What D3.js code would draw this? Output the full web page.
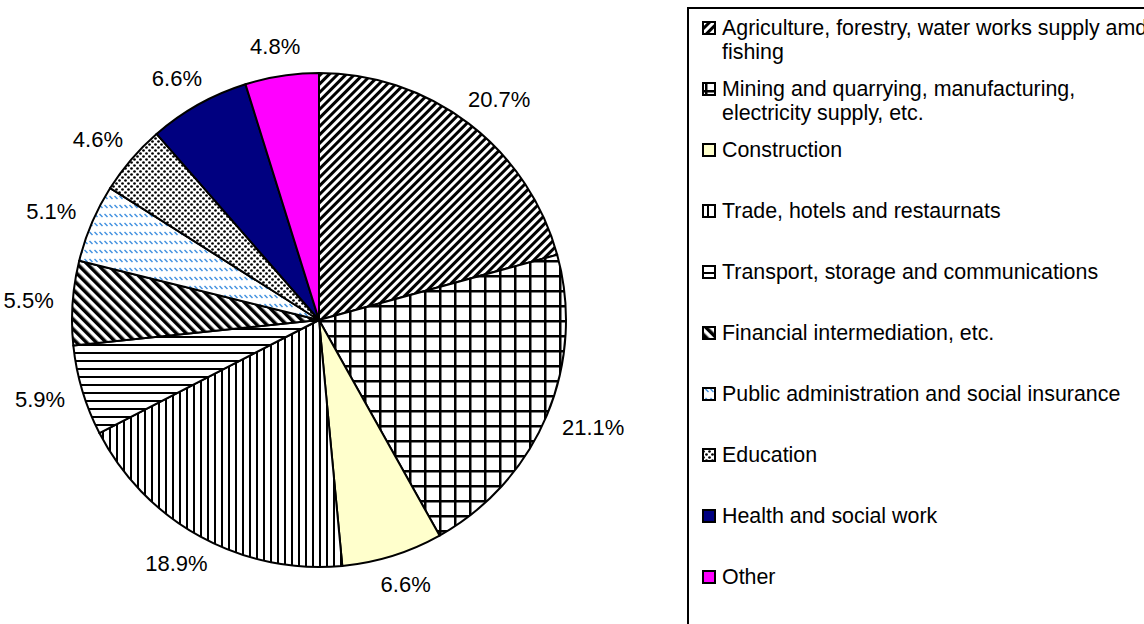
<!DOCTYPE html>
<html>
<head>
<meta charset="utf-8">
<script src="https://cdn.jsdelivr.net/npm/d3@7"></script>
<style>
body{margin:0;background:#fff;overflow:hidden;}
svg{display:block;font-family:Arial,"Liberation Sans",sans-serif;}
</style>
</head>
<body>
<svg id="chart"></svg>
<script>
// data
const categories = [
  "Agriculture, forestry, water works supply amd fishing",
  "Mining and quarrying, manufacturing, electricity supply, etc.",
  "Construction",
  "Trade, hotels and restaurnats",
  "Transport, storage and communications",
  "Financial intermediation, etc.",
  "Public administration and social insurance",
  "Education",
  "Health and social work",
  "Other"
];
const shares = [20.7, 21.1, 6.6, 18.9, 5.9, 5.5, 5.1, 4.6, 6.6, 4.8];
const fills = ["url(#pAgri)", "url(#pMine)", "#FFFFCC", "url(#pTrade)", "url(#pTrans)",
               "url(#pFin)", "url(#pPub)", "url(#pEdu)", "#000080", "#FF00FF"];

const w = 1144, h = 624;
const cx = 319, cy = 320, r = 247;//pie centre and radius

let svg = d3.select("#chart").attr("width", w).attr("height", h);
let defs = svg.append("defs");

// hatch patterns like the excel fills
let stripes = (id, size, thick, angle) => {
  let p = defs.append("pattern").attr("id", id)
    .attr("patternUnits", "userSpaceOnUse")
    .attr("width", size).attr("height", size)
    .attr("patternTransform", "rotate(" + angle + ")");
  p.append("rect").attr("width", size).attr("height", size).attr("fill", "#fff");
  p.append("rect").attr("width", thick).attr("height", size).attr("fill", "#000");
};
stripes("pAgri", 6, 3, 45);
stripes("pFin", 7, 3.5, -45);
stripes("pTrade", 7, 2, 0);
stripes("pTrans", 8, 2, 90);

let grid = defs.append("pattern").attr("id", "pMine")
  .attr("patternUnits", "userSpaceOnUse").attr("width", 15).attr("height", 15);
grid.append("rect").attr("width", 15).attr("height", 15).attr("fill", "#fff");
grid.append("rect").attr("width", 2.5).attr("height", 15).attr("fill", "#000");
grid.append("rect").attr("width", 15).attr("height", 2.5).attr("fill", "#000");

let pub = defs.append("pattern").attr("id", "pPub")
  .attr("patternUnits", "userSpaceOnUse").attr("width", 5).attr("height", 9);
pub.append("rect").attr("width", 5).attr("height", 9).attr("fill", "#fff");
pub.append("line").attr("x1", 0.5).attr("y1", 2).attr("x2", 3.5).attr("y2", 5)
  .attr("stroke", "#3f8fdf").attr("stroke-width", 1.5);

let edu = defs.append("pattern").attr("id", "pEdu")
  .attr("patternUnits", "userSpaceOnUse").attr("width", 6).attr("height", 6);
edu.append("rect").attr("width", 6).attr("height", 6).attr("fill", "#fff");
edu.append("circle").attr("cx", 1.5).attr("cy", 1.5).attr("r", 1.35).attr("fill", "#000");
edu.append("circle").attr("cx", 4.5).attr("cy", 4.5).attr("r", 1.35).attr("fill", "#000");

// pie
let pie = d3.pie().sort(null).value(d => d);
let arcs = pie(shares);
let arc = d3.arc().innerRadius(0).outerRadius(r);

let g = svg.append("g").attr("transform", "translate(" + cx + "," + cy + ")");
g.selectAll("path")
  .data(arcs)
  .enter()
  .append("path")
  .attr("d", arc)
  .attr("fill", (d, i) => fills[i])
  .attr("stroke", "#000")
  .attr("stroke-width", 2)
  .attr("stroke-linejoin", "round");

// labels sit just outside the rim, box pushed outwards along the mid angle
const labelR = r + 19, labelH = 22;
g.selectAll("text")
  .data(arcs)
  .enter()
  .append("text")
  .attr("text-anchor", "middle")
  .attr("dominant-baseline", "central")
  .attr("font-size", 22)
  .attr("fill", "#000")
  .text(d => d.value.toFixed(1) + "%")
  .each(function(d) {
    let a = (d.startAngle + d.endAngle) / 2;
    let tw = this.getComputedTextLength();
    let x = Math.sin(a) * labelR + Math.sin(a) * tw / 2;
    let y = -Math.cos(a) * labelR - Math.cos(a) * labelH / 2;
    d3.select(this).attr("x", x).attr("y", y);
  });

// legend
const legX = 688, legY = 8, rowH = 61, firstBase = 35, lineH = 24, wrapW = 440;
svg.append("rect")
  .attr("x", legX).attr("y", legY)
  .attr("width", 600).attr("height", 700)
  .attr("fill", "none").attr("stroke", "#000").attr("stroke-width", 2);

let leg = svg.append("g");
categories.forEach((name, i) => {
  let base = firstBase + i * rowH;
  leg.append("rect")
    .attr("x", 703).attr("y", base - 13)
    .attr("width", 12).attr("height", 12)
    .attr("fill", fills[i])
    .attr("stroke", "#000").attr("stroke-width", 2);
  let t = leg.append("text")
    .attr("x", 722).attr("y", base)
    .attr("font-size", 21.4).attr("fill", "#000");
  // simple word wrap
  let words = name.split(" "), line = [], lineNo = 0;
  let span = t.append("tspan").attr("x", 722).attr("y", base);
  words.forEach(word => {
    line.push(word);
    span.text(line.join(" "));
    if (span.node().getComputedTextLength() > wrapW && line.length > 1) {
      line.pop();
      span.text(line.join(" "));
      line = [word];
      lineNo++;
      span = t.append("tspan").attr("x", 722).attr("y", base + lineNo * lineH).text(word);
    }
  });
});
</script>
</body>
</html>
